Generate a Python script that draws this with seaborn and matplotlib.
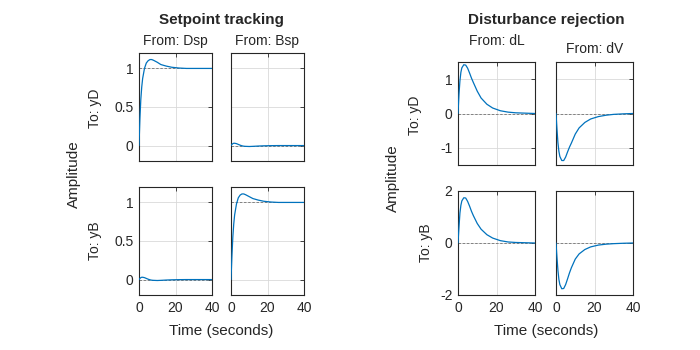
import numpy as np
import pandas as pd
import matplotlib
matplotlib.use("Agg")
import matplotlib.pyplot as plt
import seaborn as sns

# step response samples (time in seconds)
t = [0, 0.5, 1, 1.5, 2, 3, 4, 5, 6, 7, 8, 10, 12, 15, 18, 22, 26, 30, 35, 40]

# Setpoint tracking
yD_Dsp = [0, 0.35, 0.6, 0.76, 0.87, 1.0, 1.07, 1.1, 1.115, 1.115, 1.105, 1.08,
          1.05, 1.03, 1.015, 1.005, 1.0, 1.0, 1.0, 1.0]
yD_Bsp = [0, 0.015, 0.025, 0.03, 0.03, 0.025, 0.015, 0.005, -0.003, -0.008,
          -0.01, -0.012, -0.01, -0.006, -0.003, -0.001, 0, 0, 0, 0]
yB_Dsp = [0, 0.015, 0.025, 0.03, 0.03, 0.025, 0.015, 0.005, -0.003, -0.008,
          -0.01, -0.012, -0.01, -0.006, -0.003, -0.001, 0, 0, 0, 0]
yB_Bsp = [0, 0.3, 0.55, 0.72, 0.84, 0.98, 1.06, 1.095, 1.11, 1.11, 1.1, 1.075,
          1.05, 1.03, 1.015, 1.005, 1.0, 1.0, 1.0, 1.0]

# Disturbance rejection
yD_dL = [0, 0.55, 0.95, 1.2, 1.33, 1.42, 1.41, 1.32, 1.18, 1.03, 0.9, 0.65,
         0.45, 0.27, 0.16, 0.08, 0.04, 0.02, 0.01, 0.0]
yD_dV = [0, -0.45, -0.85, -1.1, -1.25, -1.37, -1.37, -1.27, -1.12, -0.98, -0.86,
         -0.6, -0.42, -0.26, -0.16, -0.09, -0.05, -0.025, -0.01, 0.0]
yB_dL = [0, 0.6, 1.15, 1.45, 1.62, 1.74, 1.73, 1.6, 1.42, 1.22, 1.05, 0.75,
         0.53, 0.32, 0.19, 0.09, 0.04, 0.02, 0.01, 0.0]
yB_dV = [0, -0.55, -1.05, -1.4, -1.6, -1.76, -1.75, -1.6, -1.38, -1.15, -0.95,
         -0.62, -0.42, -0.25, -0.15, -0.08, -0.045, -0.025, -0.01, 0.0]

steady_sp = {("yD", "Dsp"): 1, ("yD", "Bsp"): 0, ("yB", "Dsp"): 0, ("yB", "Bsp"): 1}

rows = []
for out, inp, vals in [("yD", "Dsp", yD_Dsp), ("yD", "Bsp", yD_Bsp),
                       ("yB", "Dsp", yB_Dsp), ("yB", "Bsp", yB_Bsp),
                       ("yD", "dL", yD_dL), ("yD", "dV", yD_dV),
                       ("yB", "dL", yB_dL), ("yB", "dV", yB_dV)]:
    for ti, v in zip(t, vals):
        rows.append({"t": ti, "y": v, "out": out, "inp": inp})
df = pd.DataFrame(rows)

sns.set_style("white")
plt.rcParams["font.family"] = ["Liberation Sans", "DejaVu Sans"]
plt.rcParams["font.size"] = 10

W, H = 700, 350
fig = plt.figure(figsize=(7, 3.5), dpi=100)


def px_axes(x0, y0, x1, y1):
    return fig.add_axes([x0 / W, 1 - y1 / H, (x1 - x0) / W, (y1 - y0) / H])


blue = "#0072BD"
groups = [
    {"inputs": ["Dsp", "Bsp"],
     "boxes": {("yD", 0): (139, 53, 212, 161), ("yD", 1): (231, 53, 304, 161),
               ("yB", 0): (139, 187, 212, 295), ("yB", 1): (231, 187, 304, 295)},
     "ylim": {"yD": (-0.2, 1.2), "yB": (-0.2, 1.2)},
     "yticks": {"yD": [0, 0.5, 1], "yB": [0, 0.5, 1]},
     "yticklabels": {"yD": ["0", "0.5", "1"], "yB": ["0", "0.5", "1"]},
     "steady": steady_sp},
    {"inputs": ["dL", "dV"],
     "boxes": {("yD", 0): (458, 62, 535, 165), ("yD", 1): (556, 62, 633, 165),
               ("yB", 0): (458, 191, 535, 295), ("yB", 1): (556, 191, 633, 295)},
     "ylim": {"yD": (-1.5, 1.5), "yB": (-2, 2)},
     "yticks": {"yD": [-1, 0, 1], "yB": [-2, 0, 2]},
     "yticklabels": {"yD": ["-1", "0", "1"], "yB": ["-2", "0", "2"]},
     "steady": None},
]

for g in groups:
    for (out, col), box in g["boxes"].items():
        inp = g["inputs"][col]
        ax = px_axes(*box)
        sub = df[(df["out"] == out) & (df["inp"] == inp)]
        ss = g["steady"][(out, inp)] if g["steady"] else 0
        ax.axhline(ss, color="0.45", lw=0.6, ls=(0, (3, 2)), zorder=1)
        sns.lineplot(data=sub, x="t", y="y", ax=ax, color=blue, lw=0.9, zorder=3)
        ax.set_xlim(0, 40)
        ax.set_ylim(*g["ylim"][out])
        ax.set_xticks([0, 20, 40])
        ax.set_yticks(g["yticks"][out])
        ax.grid(True, color="0.85", lw=0.6)
        ax.set_xlabel("")
        ax.set_ylabel("")
        ax.tick_params(direction="in", top=True, right=True, length=3,
                       width=0.6, labelsize=10, colors="0.15", pad=4)
        if out == "yD":
            ax.set_xticklabels([])
        else:
            ax.set_xticklabels(["0", "20", "40"])
        if col == 1:
            ax.set_yticklabels([])
        else:
            ax.set_yticklabels(g["yticklabels"][out])
        for s in ax.spines.values():
            s.set_color("0.15")
            s.set_linewidth(0.8)


def ftext(x, y, s, **kw):
    fig.text(x / W, 1 - y / H, s, ha="center", va="center", color="0.15", **kw)


ftext(221, 20, "Setpoint tracking", fontsize=11, fontweight="bold")
ftext(546, 20, "Disturbance rejection", fontsize=11, fontweight="bold")
ftext(175, 41, "From: Dsp", fontsize=10)
ftext(267, 41, "From: Bsp", fontsize=10)
ftext(497, 41, "From: dL", fontsize=10)
ftext(595, 49, "From: dV", fontsize=10)
ftext(95, 108, "To: yD", fontsize=10, rotation=90)
ftext(95, 241, "To: yB", fontsize=10, rotation=90)
ftext(415, 115, "To: yD", fontsize=10, rotation=90)
ftext(426, 243, "To: yB", fontsize=10, rotation=90)
ftext(74, 174, "Amplitude", fontsize=11, rotation=90)
ftext(393, 178, "Amplitude", fontsize=11, rotation=90)
ftext(221, 331, "Time (seconds)", fontsize=11)
ftext(546, 331, "Time (seconds)", fontsize=11)

fig.savefig("out.png", dpi=100, facecolor="white")
